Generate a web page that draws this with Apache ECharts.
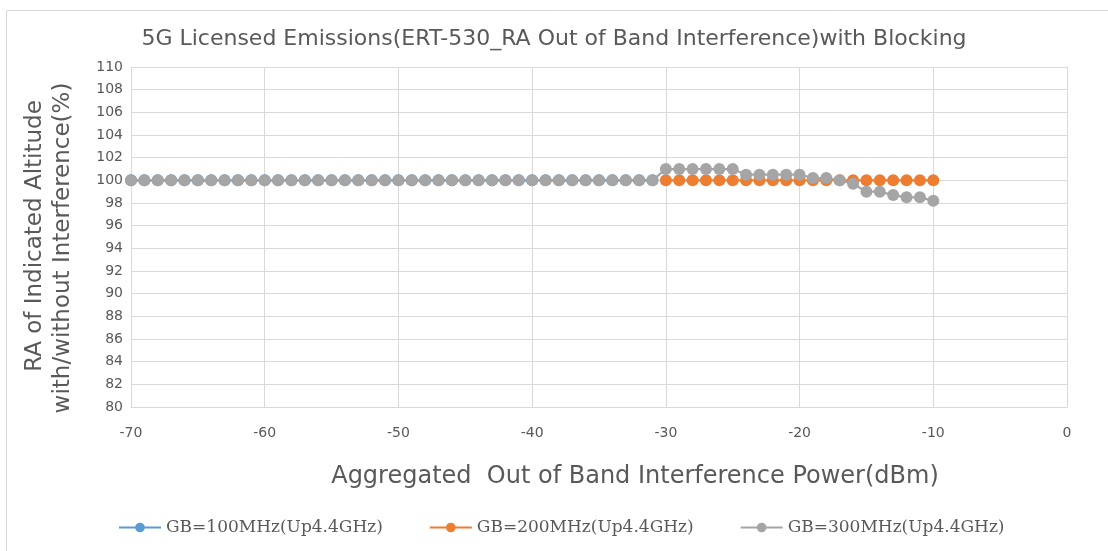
<!DOCTYPE html>
<html>
<head>
<meta charset="utf-8">
<script src="https://cdn.jsdelivr.net/npm/echarts@6/dist/echarts.min.js"></script>
<style>
html,body{margin:0;padding:0;background:#fff;}
#chart{width:1108px;height:551px;}
</style>
</head>
<body>
<div id="chart"></div>
<script>
var seriesNames = ['GB=100MHz(Up4.4GHz)', 'GB=200MHz(Up4.4GHz)', 'GB=300MHz(Up4.4GHz)'];

var xBlue = [-70,-69,-68,-67,-66,-65,-64,-63,-62,-61,-60,-59,-58,-57,-56,-55,-54,-53,-52,-51,-50,-49,-48,-47,-46,-45,-44,-43,-42,-41,-40,-39,-38,-37,-36,-35,-34,-33,-32,-31];
var yBlue = [100,100,100,100,100,100,100,100,100,100,100,100,100,100,100,100,100,100,100,100,100,100,100,100,100,100,100,100,100,100,100,100,100,100,100,100,100,100,100,100];

var xOrange = [-30,-29,-28,-27,-26,-25,-24,-23,-22,-21,-20,-19,-18,-17,-16,-15,-14,-13,-12,-11,-10];
var yOrange = [100,100,100,100,100,100,100,100,100,100,100,100,100,100,100,100,100,100,100,100,100];

var xGray = [-70,-69,-68,-67,-66,-65,-64,-63,-62,-61,-60,-59,-58,-57,-56,-55,-54,-53,-52,-51,-50,-49,-48,-47,-46,-45,-44,-43,-42,-41,-40,-39,-38,-37,-36,-35,-34,-33,-32,-31,-30,-29,-28,-27,-26,-25,-24,-23,-22,-21,-20,-19,-18,-17,-16,-15,-14,-13,-12,-11,-10];
var yGray = [100,100,100,100,100,100,100,100,100,100,100,100,100,100,100,100,100,100,100,100,100,100,100,100,100,100,100,100,100,100,100,100,100,100,100,100,100,100,100,100,101,101,101,101,101,101,100.5,100.5,100.5,100.5,100.5,100.2,100.2,100,99.7,99,99,98.7,98.5,98.5,98.2];

var titleText = '5G Licensed Emissions(ERT-530_RA Out of Band Interference)with Blocking';
var xAxisName = 'Aggregated  Out of Band Interference Power(dBm)';
var yAxisName1 = 'RA of Indicated Altitude';
var yAxisName2 = 'with/without Interference(%)';

function pairs(xs, ys){ return xs.map(function(x,i){ return [x, ys[i]]; }); }

var colors = ['#5B9BD5', '#ED7D31', '#A5A5A5'];
var txt = '#595959';
var sans = 'DejaVu Sans';

var chart = echarts.init(document.getElementById('chart'), null, {renderer:'canvas'});
var mkSeries = function(i, data){
  return {
    name: seriesNames[i], type: 'line', data: data,
    symbol: 'circle', symbolSize: 12, showSymbol: true,
    lineStyle: {color: colors[i], width: 2.25},
    itemStyle: {color: colors[i]},
    emphasis: {disabled: true}
  };
};
chart.setOption({
  animation: false,
  backgroundColor: '#ffffff',
  color: colors,
  title: {
    text: titleText, left: 'center', top: 23,
    textStyle: {fontFamily: sans, fontSize: 22, fontWeight: 'normal', color: txt}
  },
  grid: {left: 131, right: 41, top: 67, bottom: 144},
  legend: {
    left: 113, bottom: 10, itemWidth: 42, itemHeight: 12, itemGap: 46,
    textStyle: {fontFamily: 'DejaVu Serif', fontSize: 17, color: txt},
    data: seriesNames
  },
  xAxis: {
    type: 'value', min: -70, max: 0, interval: 10,
    axisLine: {show: true, lineStyle: {color: '#d9d9d9', width: 1}},
    axisTick: {show: false},
    axisLabel: {fontFamily: sans, fontSize: 14, color: txt, margin: 19},
    splitLine: {show: true, lineStyle: {color: '#d9d9d9', width: 1}}
  },
  yAxis: {
    type: 'value', min: 80, max: 110, interval: 2,
    axisLine: {show: true, lineStyle: {color: '#d9d9d9', width: 1}},
    axisTick: {show: false},
    axisLabel: {fontFamily: sans, fontSize: 14, color: txt, margin: 8},
    splitLine: {show: true, lineStyle: {color: '#d9d9d9', width: 1}}
  },
  graphic: [
    {type: 'rect', shape: {x: 6.5, y: 10.5, width: 1120, height: 560}, style: {fill: 'none', stroke: '#d9d9d9', lineWidth: 1}, silent: true, z: -10},
    {type: 'text', x: 635, y: 477, style: {text: xAxisName, fontFamily: sans, fontSize: 24, fill: txt, align: 'center', verticalAlign: 'middle'}},
    {type: 'text', x: 35, y: 236, rotation: Math.PI/2, style: {text: yAxisName1, fontFamily: sans, fontSize: 23, fill: txt, align: 'center', verticalAlign: 'middle'}},
    {type: 'text', x: 63, y: 248, rotation: Math.PI/2, style: {text: yAxisName2, fontFamily: sans, fontSize: 23, fill: txt, align: 'center', verticalAlign: 'middle'}}
  ],
  series: [
    mkSeries(0, pairs(xBlue, yBlue)),
    mkSeries(1, pairs(xOrange, yOrange)),
    mkSeries(2, pairs(xGray, yGray))
  ]
});
</script>
</body>
</html>
